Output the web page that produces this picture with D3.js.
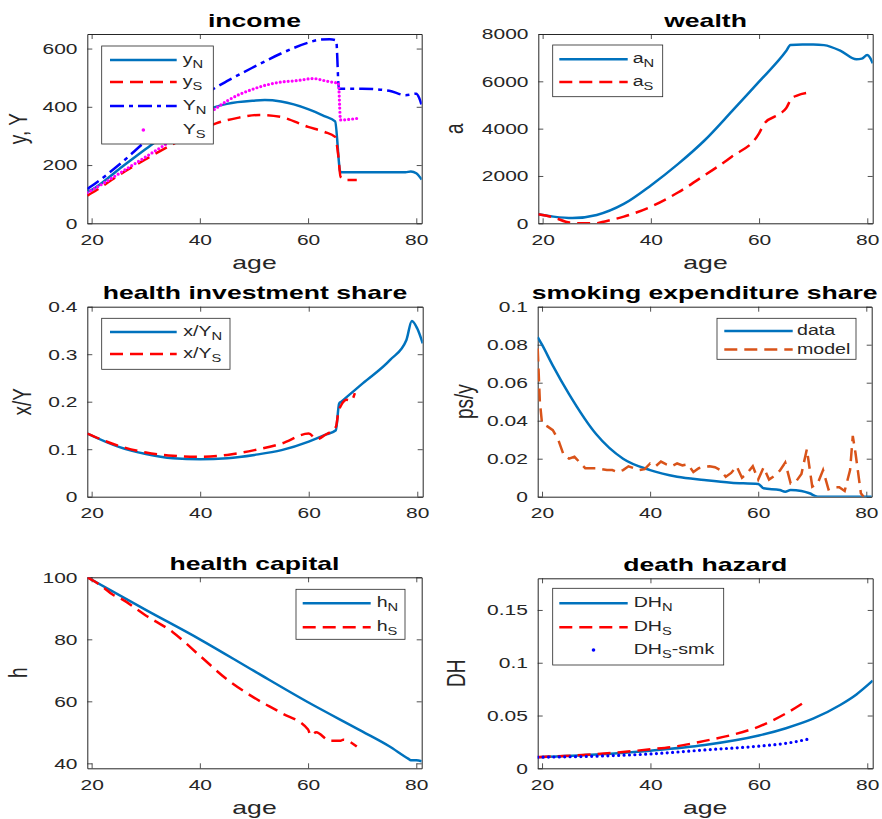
<!DOCTYPE html>
<html>
<head>
<meta charset="utf-8">
<script src="https://cdn.jsdelivr.net/npm/d3@7"></script>
<style>
body { margin: 0; background: #fff; }
text { font-family: "Liberation Sans", Arial, Helvetica, sans-serif; }
</style>
</head>
<body>
<div id="chart"></div>
<script>
// ---- income ----
var ageYnN = [19.2, 20, 25, 30, 35, 40, 45, 50, 52, 55, 60, 63, 65, 65.9, 66, 70, 78, 79, 80, 81];
var yN     = [108, 115, 185, 255, 322, 380, 410, 421, 423, 418, 392, 368, 350, 180, 175, 175, 175, 178, 172, 150];
var ageYS  = [19.2, 21, 23, 25, 30, 35, 40, 43, 47, 51, 55, 60, 63, 65, 65.6, 66, 67, 69];
var yS     = [95, 115, 140, 165, 220, 272, 318, 343, 362, 372, 365, 331, 314, 297, 230, 160, 149, 149];
var ageBigYN = [19.2, 20, 25, 30, 35, 40, 45, 50, 55, 60, 62, 64, 65.2, 65.7, 70, 75, 78, 80, 80.5, 81];
var bigYN    = [118, 128, 200, 282, 360, 432, 488, 537, 583, 620, 630, 632, 628, 462, 462, 455, 440, 445, 432, 405];
var ageBigYS = [19.2, 22, 25, 30, 35, 40, 43, 45, 50, 55, 58, 61, 63, 65, 65.6, 66, 69];
var bigYS    = [105, 135, 170, 228, 288, 358, 395, 420, 462, 485, 490, 497, 490, 483, 482, 355, 360];

// ---- wealth ----
var ageAN = [19.2, 22, 25.5, 30, 35, 40, 45, 50, 55, 60, 65, 65.8, 68, 70, 72, 75, 78, 79, 80, 80.5, 81];
var aN    = [380, 282, 220, 352, 817, 1600, 2500, 3520, 4740, 5985, 7280, 7535, 7560, 7560, 7530, 7300, 6930, 6960, 7110, 7000, 6760];
var ageAS = [19.2, 22, 25, 27, 30, 31, 35, 40, 45, 50, 55, 60, 61, 64, 65, 66, 67, 69];
var aS    = [380, 250, 30, 0, 0, 55, 280, 700, 1300, 2040, 2820, 3800, 4225, 4650, 4860, 5280, 5400, 5520];

// ---- health investment share ----
var ageXN = [19.2, 25, 30, 35, 40, 45, 50, 55, 60, 63, 65, 65.6, 66, 70, 75, 78, 79, 80, 81];
var xN    = [0.133, 0.105, 0.090, 0.081, 0.0786, 0.081, 0.088, 0.098, 0.116, 0.130, 0.140, 0.196, 0.200, 0.239, 0.288, 0.330, 0.370, 0.354, 0.323];
var ageXS = [19.2, 25, 30, 35, 40, 45, 50, 55, 60, 61.5, 63, 65, 65.5, 66, 67, 67.8, 68.5];
var xS    = [0.133, 0.107, 0.093, 0.086, 0.084, 0.088, 0.098, 0.112, 0.133, 0.121, 0.130, 0.147, 0.180, 0.193, 0.204, 0.202, 0.218];

// ---- smoking expenditure share ----
var ageData = [19.2, 20, 22, 25, 30, 35, 40, 45, 50, 55, 60, 61, 64, 65, 66, 68, 69.5, 71, 81];
var psData  = [0.084, 0.080, 0.069, 0.054, 0.033, 0.020, 0.014, 0.0105, 0.0088, 0.0074, 0.0067, 0.0044, 0.0035, 0.0026, 0.0035, 0.003, 0.0018, 0, 0];
var ageModel = [19.2, 19.6, 20, 21, 22, 23, 24, 25, 26, 27, 28, 29, 30, 31, 32, 33, 34, 35, 36, 37, 38, 39, 40,
                41, 42, 43, 44, 45, 46, 47, 48, 49, 50, 51, 52, 53, 54, 55, 56, 57, 58, 59, 60, 61, 62, 63, 64,
                65, 66, 67, 68, 69, 70, 71, 72, 73, 74, 75, 76, 77, 77.5, 78, 79, 79.5];
var psModel  = [0.078, 0.05, 0.0386, 0.037, 0.035, 0.030, 0.022, 0.020, 0.021, 0.018, 0.015, 0.015, 0.015, 0.0145, 0.014, 0.014, 0.013, 0.014, 0.016, 0.015, 0.014, 0.0145, 0.0175,
                0.016, 0.0185, 0.017, 0.016, 0.0175, 0.0165, 0.017, 0.013, 0.015, 0.0158, 0.016, 0.0155, 0.014, 0.0105, 0.0125, 0.016, 0.010, 0.0125, 0.016, 0.009, 0.0155, 0.009, 0.011, 0.0137,
                0.018, 0.007, 0.008, 0.012, 0.025, 0.0053, 0.007, 0.014, 0.0039, 0.005, 0.005, 0.003, 0.014, 0.032, 0.023, 0.0018, 0];

// ---- health capital ----
var ageHN = [19.2, 30, 40, 50, 60, 70, 75, 78.5, 79, 80, 81];
var hN    = [100, 89.5, 80, 69.8, 59.7, 50.3, 45.5, 41.5, 41, 41, 40.7];
var ageHS = [19.2, 22, 24, 25, 30, 35, 40, 45, 50, 55, 60, 60.5, 61.5, 64, 66, 66.5, 69];
var hS    = [100, 97, 94.3, 93.5, 87.7, 82.3, 74.7, 67.1, 61.2, 56.3, 50.9, 49, 50, 47.3, 47.3, 47.6, 45.4];

// ---- death hazard ----
var ageDN = [19.2, 30, 40, 50, 60, 65, 70, 75, 78, 81];
var dhN   = [0.0105, 0.013, 0.0167, 0.022, 0.031, 0.038, 0.047, 0.060, 0.070, 0.083];
var ageDS = [19.2, 30, 40, 45, 50, 55, 60, 65, 69];
var dhS   = [0.0105, 0.0135, 0.018, 0.021, 0.026, 0.0316, 0.0395, 0.052, 0.0647];
var ageDSmk = [19.2, 30, 40, 50, 60, 65, 69];
var dhSmk   = [0.0105, 0.0115, 0.0136, 0.0174, 0.021, 0.0237, 0.0275];

var ageTicks = [20, 40, 60, 80];

var svg = d3.select("#chart").append("svg")
    .attr("width", 882)
    .attr("height", 819);

var axisColor = "#262626";
var stretch = 1.4;   // the figure's text is drawn wide
var panelId = 0;

function zipAge(ages, vals)
{
    return ages.map(function(a, i) { return {age: a, v: vals[i]}; });
}

function wideText(parent, x, y, rot)
{
    return parent.append("text")
        .attr("transform", "translate(" + x + "," + y + ") scale(" + stretch + ",1)" + (rot ? " rotate(" + rot + ")" : ""));
}

function drawPanel(p)
{
    panelId++;
    var x = d3.scaleLinear().domain([19.2, 81]).range([p.left, p.right]);
    var y = d3.scaleLinear().domain(p.yDomain).range([p.bottom, p.top]);
    var g = svg.append("g");

    g.append("clipPath").attr("id", "clip" + panelId)
        .append("rect")
        .attr("x", p.left).attr("y", p.top)
        .attr("width", p.right - p.left).attr("height", p.bottom - p.top);

    // axes, ticks inward on all four sides
    var fmt = function(d) { return String(d); };
    var xb = g.append("g").attr("transform", "translate(0," + p.bottom + ")")
        .call(d3.axisBottom(x).tickValues(ageTicks).tickFormat(fmt).tickSizeInner(-5).tickSizeOuter(0).tickPadding(11));
    var xt = g.append("g").attr("transform", "translate(0," + p.top + ")")
        .call(d3.axisTop(x).tickValues(ageTicks).tickFormat("").tickSizeInner(-5).tickSizeOuter(0));
    var yl = g.append("g").attr("transform", "translate(" + p.left + ",0)")
        .call(d3.axisLeft(y).tickValues(p.yTicks).tickFormat(fmt).tickSizeInner(-5).tickSizeOuter(0).tickPadding(7));
    var yr = g.append("g").attr("transform", "translate(" + p.right + ",0)")
        .call(d3.axisRight(y).tickValues(p.yTicks).tickFormat("").tickSizeInner(-5).tickSizeOuter(0));

    [xb, xt, yl, yr].forEach(function(a)
    {
        a.select(".domain").attr("stroke", axisColor).attr("stroke-width", 1);
        a.selectAll(".tick line").attr("stroke", axisColor).attr("stroke-width", 0.8);
        a.selectAll(".tick text")
            .attr("fill", axisColor)
            .attr("transform", "scale(" + stretch + ",1)")
            .style("font-size", "15px");
    });

    // series
    p.series.forEach(function(s)
    {
        var line = d3.line()
            .curve(s.jagged ? d3.curveLinear : d3.curveMonotoneX)
            .x(function(d) { return x(d.age); })
            .y(function(d) { return y(d.v); });

        g.append("path")
            .datum(zipAge(s.ages, s.vals))
            .attr("clip-path", "url(#clip" + panelId + ")")
            .attr("d", line)
            .attr("fill", "none")
            .attr("stroke", s.color)
            .attr("stroke-width", s.dots ? 3.2 : 2.5)
            .attr("stroke-linecap", s.dots ? "round" : "butt")
            .attr("stroke-dasharray", s.dash || null);
    });

    // title and labels
    wideText(g, (p.left + p.right) / 2, p.top - 7.5)
        .attr("text-anchor", "middle")
        .style("font-size", "19px")
        .style("font-weight", "bold")
        .attr("fill", "#000")
        .text(p.title);

    if (p.xlab)
    {
        wideText(g, (p.left + p.right) / 2, p.bottom + 46)
            .attr("text-anchor", "middle")
            .style("font-size", "19px")
            .attr("fill", axisColor)
            .text("age");
    }

    wideText(g, p.ylabX, (p.top + p.bottom) / 2, -90)
        .attr("text-anchor", "middle")
        .style("font-size", "19px")
        .attr("fill", axisColor)
        .text(p.ylab);

    // legend
    var L = p.legend;
    var lg = g.append("g");
    lg.append("rect")
        .attr("x", L.x).attr("y", L.y)
        .attr("width", L.w).attr("height", L.h)
        .attr("fill", "#fff")
        .attr("stroke", axisColor)
        .attr("stroke-width", 0.8);

    L.rows.forEach(function(ry, i)
    {
        var s = p.series[i];
        if (s.dots)
        {
            lg.append("circle")
                .attr("cx", (L.x0 + L.x1) / 2)
                .attr("cy", ry)
                .attr("r", 1.8)
                .attr("fill", s.color);
        }
        else
        {
            lg.append("line")
                .attr("x1", L.x0).attr("x2", L.x1)
                .attr("y1", ry).attr("y2", ry)
                .attr("stroke", s.color)
                .attr("stroke-width", 2.5)
                .attr("stroke-dasharray", s.dash || null);
        }
        var t = wideText(lg, L.tx, ry + 4)
            .style("font-size", "14px")
            .attr("fill", axisColor);
        t.append("tspan").text(s.name);
        if (s.sub)
        {
            t.append("tspan").attr("dy", 4).style("font-size", "10.5px").text(s.sub);
            if (s.tail) t.append("tspan").attr("dy", -4).text(s.tail);
        }
    });
}

var dashed = "13,7";
var dashDot = "14,5,4,5";
var dotted = "0,4";

drawPanel({
    left: 87.3, right: 421.7, top: 34, bottom: 223.3,
    yDomain: [0, 650], yTicks: [0, 200, 400, 600],
    title: "income", ylab: "y, Y", ylabX: 27, xlab: true,
    series: [
        {ages: ageYnN, vals: yN, color: "#0072BD", name: "y", sub: "N"},
        {ages: ageYS, vals: yS, color: "#FF0000", dash: dashed, name: "y", sub: "S"},
        {ages: ageBigYN, vals: bigYN, color: "#0000FF", dash: dashDot, name: "Y", sub: "N"},
        {ages: ageBigYS, vals: bigYS, color: "#FF00FF", dots: true, dash: dotted, name: "Y", sub: "S"}
    ],
    legend: {x: 101.7, y: 46, w: 111.6, h: 98, rows: [60, 82, 106, 130], x0: 110, x1: 176.7, tx: 182.7}
});

drawPanel({
    left: 538.3, right: 872.7, top: 34, bottom: 223.3,
    yDomain: [0, 8000], yTicks: [0, 2000, 4000, 6000, 8000],
    title: "wealth", ylab: "a", ylabX: 463, xlab: true,
    series: [
        {ages: ageAN, vals: aN, color: "#0072BD", name: "a", sub: "N"},
        {ages: ageAS, vals: aS, color: "#FF0000", dash: dashed, name: "a", sub: "S"}
    ],
    legend: {x: 552.7, y: 45, w: 110, h: 51.7, rows: [59.3, 82], x0: 559.3, x1: 627.7, tx: 632.7}
});

drawPanel({
    left: 87.3, right: 422.7, top: 306.7, bottom: 496.7,
    yDomain: [0, 0.4], yTicks: [0, 0.1, 0.2, 0.3, 0.4],
    title: "health investment share", ylab: "x/Y", ylabX: 31, xlab: false,
    series: [
        {ages: ageXN, vals: xN, color: "#0072BD", name: "x/Y", sub: "N"},
        {ages: ageXS, vals: xS, color: "#FF0000", dash: dashed, name: "x/Y", sub: "S"}
    ],
    legend: {x: 101.7, y: 318.3, w: 128.3, h: 51, rows: [332, 354], x0: 110, x1: 176.7, tx: 183.3}
});

drawPanel({
    left: 537.7, right: 871.7, top: 306.7, bottom: 496.7,
    yDomain: [0, 0.1], yTicks: [0, 0.02, 0.04, 0.06, 0.08, 0.1],
    title: "smoking expenditure share", ylab: "ps/y", ylabX: 473, xlab: false,
    series: [
        {ages: ageData, vals: psData, color: "#0072BD", name: "data"},
        {ages: ageModel, vals: psModel, color: "#D95319", dash: dashed, jagged: true, name: "model"}
    ],
    legend: {x: 717, y: 318.3, w: 139, h: 41, rows: [331, 349.5], x0: 724.3, x1: 792.7, tx: 797}
});

drawPanel({
    left: 87.3, right: 421.7, top: 577.3, bottom: 768.3,
    yDomain: [38.4, 100], yTicks: [40, 60, 80, 100],
    title: "health capital", ylab: "h", ylabX: 27, xlab: true,
    series: [
        {ages: ageHN, vals: hN, color: "#0072BD", name: "h", sub: "N"},
        {ages: ageHS, vals: hS, color: "#FF0000", dash: dashed, name: "h", sub: "S"}
    ],
    legend: {x: 296, y: 589.3, w: 109, h: 50, rows: [603.3, 627.3], x0: 302.7, x1: 370.7, tx: 376.7}
});

drawPanel({
    left: 537.7, right: 872.7, top: 578.3, bottom: 768.3,
    yDomain: [0, 0.18], yTicks: [0, 0.05, 0.1, 0.15],
    title: "death hazard", ylab: "DH", ylabX: 465, xlab: true,
    series: [
        {ages: ageDN, vals: dhN, color: "#0072BD", name: "DH", sub: "N"},
        {ages: ageDS, vals: dhS, color: "#FF0000", dash: dashed, name: "DH", sub: "S"},
        {ages: ageDSmk, vals: dhSmk, color: "#0000FF", dots: true, dash: "0,5.4", name: "DH", sub: "S", tail: "-smk"}
    ],
    legend: {x: 552.7, y: 588.3, w: 171, h: 76.7, rows: [603.3, 627.3, 650], x0: 559.3, x1: 627.7, tx: 633.7}
});
</script>
</body>
</html>
